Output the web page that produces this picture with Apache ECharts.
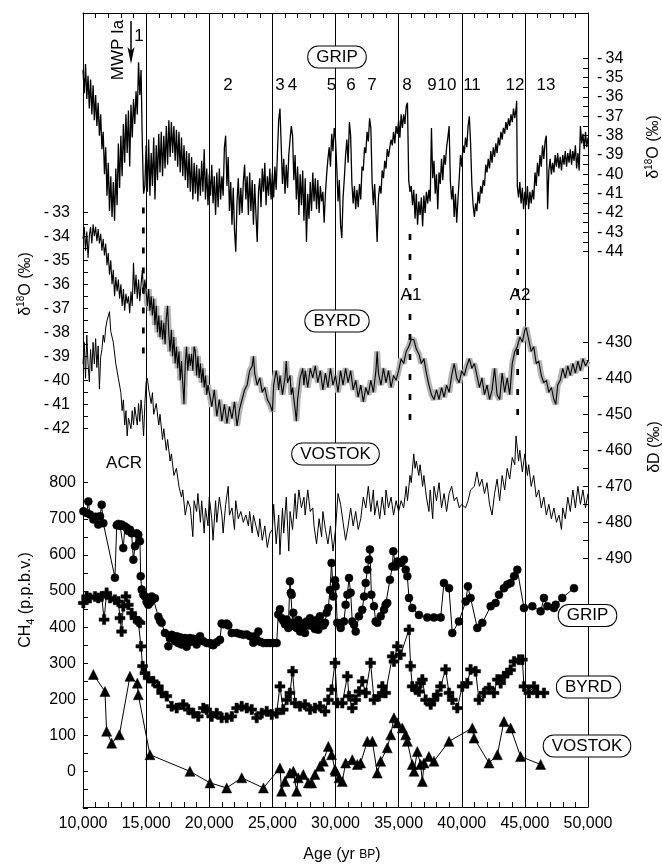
<!DOCTYPE html>
<html lang="en">
<head>
<meta charset="UTF-8">
<title>Ice core records</title>
<script src="https://cdn.jsdelivr.net/npm/echarts@6/dist/echarts.min.js"></script>
<style>
    html, body { margin: 0; padding: 0; background: #fff; }
    #main { width: 662px; height: 866px; }
</style>
</head>
<body>
<div id="main"></div>
<script>
// ages in kyr BP
var gripO18 = [
[10.0,-34.6],[10.1,-35.8],[10.2,-34.3],[10.3,-36.1],[10.4,-34.9],[10.5,-36.6],[10.6,-35.1],[10.7,-36.9],[10.8,-35.4],[10.9,-37.2],
[11.0,-35.9],[11.1,-37.5],[11.2,-36.3],[11.3,-38.0],[11.4,-36.9],[11.5,-38.7],[11.6,-37.8],[11.7,-40.0],[11.8,-38.6],[11.9,-41.1],
[12.0,-39.4],[12.1,-41.9],[12.2,-40.1],[12.3,-42.2],[12.4,-40.4],[12.5,-42.4],[12.6,-39.7],[12.7,-41.6],[12.8,-38.4],[12.9,-40.7],
[13.0,-38.0],[13.1,-40.1],[13.2,-37.4],[13.3,-39.4],[13.4,-36.9],[13.5,-38.9],[13.6,-36.7],[13.7,-39.6],[13.8,-36.4],[13.9,-38.1],
[14.0,-36.1],[14.1,-37.4],[14.2,-35.7],[14.3,-36.9],[14.4,-34.2],[14.5,-35.9],[14.6,-34.6],[14.7,-38.5],[14.8,-41.0],[14.9,-40.6],
[15.0,-38.5],[15.1,-40.9],[15.2,-38.2],[15.3,-41.1],[15.4,-38.9],[15.5,-40.6],[15.6,-38.1],[15.7,-41.3],[15.8,-38.5],[15.9,-40.3],
[16.0,-37.9],[16.1,-39.9],[16.2,-37.8],[16.3,-40.1],[16.4,-38.0],[16.5,-39.7],[16.6,-37.5],[16.7,-39.5],[16.8,-37.2],[16.9,-39.1],
[17.0,-37.3],[17.1,-38.9],[17.2,-37.5],[17.3,-39.3],[17.4,-37.7],[17.5,-39.6],[17.6,-37.8],[17.7,-39.9],[17.8,-38.1],[17.9,-40.1],
[18.0,-38.5],[18.1,-40.3],[18.2,-38.8],[18.3,-40.7],[18.4,-38.9],[18.5,-40.9],[18.6,-39.1],[18.7,-41.3],[18.8,-39.4],[18.9,-41.0],
[19.0,-39.5],[19.1,-41.4],[19.2,-39.7],[19.3,-41.1],[19.4,-39.3],[19.5,-40.9],[19.6,-38.7],[19.7,-41.3],[19.8,-39.7],[19.9,-41.6],
[20.0,-40.0],[20.1,-41.1],[20.2,-39.5],[20.3,-41.5],[20.4,-40.1],[20.5,-42.1],[20.6,-39.9],[20.7,-41.7],[20.8,-39.7],[20.9,-41.3],
[21.0,-40.1],[21.1,-41.1],[21.2,-38.6],[21.3,-38.0],[21.4,-40.6],[21.5,-39.1],[21.6,-41.9],[21.7,-40.4],[21.8,-42.6],[21.9,-40.7],
[22.0,-42.9],[22.1,-44.0],[22.2,-41.4],[22.3,-40.2],[22.4,-42.1],[22.5,-40.7],[22.6,-42.0],[22.7,-40.4],[22.8,-39.5],[22.9,-41.3],
[23.0,-40.1],[23.1,-42.1],[23.2,-39.9],[23.3,-41.9],[23.4,-40.3],[23.5,-42.6],[23.6,-40.5],[23.7,-42.1],[23.8,-43.5],[23.9,-40.9],
[24.0,-40.2],[24.1,-41.7],[24.2,-39.7],[24.3,-40.9],[24.4,-39.4],[24.5,-41.6],[24.6,-40.1],[24.7,-41.1],[24.8,-39.7],[24.9,-41.3],
[25.0,-39.9],[25.1,-41.2],[25.2,-39.6],[25.3,-40.8],[25.4,-38.9],[25.5,-37.2],[25.6,-36.6],[25.7,-38.5],[25.8,-40.5],[25.9,-39.2],
[26.0,-41.0],[26.1,-39.5],[26.2,-40.7],[26.3,-39.0],[26.4,-38.2],[26.5,-37.5],[26.6,-38.0],[26.7,-40.3],[26.8,-39.0],[26.9,-41.3],
[27.0,-39.6],[27.1,-42.1],[27.2,-40.0],[27.3,-41.6],[27.4,-39.8],[27.5,-42.4],[27.6,-40.2],[27.7,-43.5],[27.8,-41.0],[27.9,-42.3],
[28.0,-40.4],[28.1,-41.9],[28.2,-39.9],[28.3,-41.4],[28.4,-40.2],[28.5,-41.8],[28.6,-40.3],[28.7,-42.0],[28.8,-40.6],[28.9,-41.4],
[29.0,-40.9],[29.1,-42.5],[29.2,-41.0],[29.3,-40.0],[29.4,-39.2],[29.5,-38.6],[29.6,-39.6],[29.7,-37.9],[29.8,-38.8],[29.9,-37.6],
[30.0,-38.2],[30.1,-39.6],[30.2,-41.4],[30.3,-40.3],[30.4,-42.6],[30.5,-43.3],[30.6,-41.2],[30.7,-40.2],[30.8,-39.0],[30.9,-38.2],
[31.0,-39.4],[31.1,-37.3],[31.2,-38.0],[31.3,-40.5],[31.4,-41.5],[31.5,-40.6],[31.6,-41.8],[31.7,-40.8],[31.8,-41.7],[31.9,-40.5],
[32.0,-41.3],[32.1,-39.6],[32.2,-39.8],[32.3,-38.6],[32.4,-38.9],[32.5,-37.8],[32.6,-38.3],[32.7,-37.1],[32.8,-37.6],[32.9,-40.4],
[33.0,-41.6],[33.1,-40.5],[33.2,-41.9],[33.3,-43.5],[33.4,-41.2],[33.5,-40.6],[33.6,-41.0],[33.7,-39.8],[33.8,-40.2],[33.9,-39.3],
[34.0,-39.7],[34.1,-38.7],[34.2,-39.1],[34.3,-38.6],[34.4,-38.2],[34.5,-38.5],[34.6,-37.8],[34.7,-38.4],[34.8,-37.5],[34.9,-37.9],
[35.0,-37.2],[35.1,-38.1],[35.2,-36.9],[35.3,-37.6],[35.4,-36.9],[35.5,-37.4],[35.6,-36.5],[35.7,-36.3],[35.8,-40.3],[35.9,-40.9],
[36.0,-40.6],[36.1,-41.6],[36.2,-40.8],[36.3,-42.3],[36.4,-41.0],[36.5,-42.6],[36.6,-41.4],[36.7,-42.1],[36.8,-41.2],[36.9,-42.7],
[37.0,-41.1],[37.1,-42.0],[37.2,-40.9],[37.3,-41.5],[37.4,-40.8],[37.5,-41.4],[37.6,-37.6],[37.7,-40.2],[37.8,-39.3],[37.9,-41.0],
[38.0,-40.0],[38.1,-41.8],[38.2,-39.9],[38.3,-40.5],[38.4,-39.2],[38.5,-40.3],[38.6,-39.0],[38.7,-39.5],[38.8,-38.6],[38.9,-38.1],
[39.0,-37.5],[39.1,-40.4],[39.2,-41.3],[39.3,-40.6],[39.4,-42.2],[39.5,-41.0],[39.6,-42.5],[39.7,-41.3],[39.8,-40.2],[39.9,-39.0],
[40.0,-39.6],[40.1,-38.5],[40.2,-38.9],[40.3,-38.1],[40.4,-38.6],[40.5,-37.5],[40.6,-37.0],[40.7,-38.4],[40.8,-40.5],[40.9,-41.6],
[41.0,-42.2],[41.1,-41.5],[41.2,-41.9],[41.3,-40.9],[41.4,-41.5],[41.5,-40.6],[41.6,-41.0],[41.7,-40.3],[41.8,-40.6],[41.9,-39.5],
[42.0,-39.9],[42.1,-39.2],[42.2,-39.7],[42.3,-38.8],[42.4,-39.4],[42.5,-38.6],[42.6,-39.1],[42.7,-38.4],[42.8,-38.9],[42.9,-38.1],
[43.0,-38.5],[43.1,-37.8],[43.2,-38.2],[43.3,-37.6],[43.4,-37.9],[43.5,-37.3],[43.6,-37.7],[43.7,-37.1],[43.8,-37.5],[43.9,-36.9],
[44.0,-37.3],[44.1,-36.6],[44.2,-37.1],[44.3,-36.6],[44.35,-36.2],[44.4,-40.6],[44.5,-41.2],[44.6,-40.4],[44.7,-41.5],[44.8,-40.7],
[44.9,-41.8],[45.0,-40.9],[45.1,-41.6],[45.2,-40.6],[45.3,-41.8],[45.4,-40.9],[45.5,-41.5],[45.6,-40.8],[45.7,-41.3],[45.8,-39.9],
[45.9,-40.6],[46.0,-39.4],[46.1,-40.1],[46.2,-39.0],[46.3,-39.6],[46.4,-38.5],[46.5,-39.2],[46.6,-38.3],[46.7,-38.0],[46.8,-41.8],
[46.9,-39.8],[47.0,-39.2],[47.1,-40.0],[47.2,-39.4],[47.3,-39.9],[47.4,-39.0],[47.5,-39.6],[47.6,-38.9],[47.7,-39.7],[47.8,-39.1],
[47.9,-39.8],[48.0,-39.0],[48.1,-39.5],[48.2,-38.8],[48.3,-39.6],[48.4,-38.9],[48.5,-39.4],[48.6,-38.7],[48.7,-39.5],[48.8,-38.8],
[48.9,-39.3],[49.0,-38.5],[49.1,-39.7],[49.2,-38.9],[49.3,-39.8],[49.4,-37.5],[49.5,-38.4],[49.6,-37.9],[49.7,-38.7],[49.8,-37.8],
[49.9,-38.6],[50.0,-38.1]
];

var byrdO18 = [
[10.0,-34.1],[10.1,-33.6],[10.2,-34.6],[10.3,-33.8],[10.4,-34.9],[10.5,-34.0],[10.6,-33.6],[10.7,-34.3],[10.8,-33.5],[10.9,-34.0],
[11.0,-33.6],[11.1,-34.2],[11.2,-33.7],[11.3,-34.3],[11.4,-33.9],[11.5,-34.6],[11.6,-34.1],[11.7,-34.8],[11.8,-34.3],[11.9,-35.2],
[12.0,-34.7],[12.1,-35.6],[12.2,-35.0],[12.3,-36.0],[12.4,-35.4],[12.5,-36.5],[12.6,-35.7],[12.7,-36.3],[12.8,-35.8],[12.9,-36.6],
[13.0,-36.0],[13.1,-36.9],[13.2,-36.2],[13.3,-37.1],[13.4,-36.4],[13.5,-36.8],[13.6,-36.5],[13.7,-37.2],[13.8,-36.3],[13.9,-36.9],
[14.0,-35.1],[14.1,-36.4],[14.2,-35.6],[14.3,-36.6],[14.4,-35.8],[14.5,-36.7],[14.6,-36.0],[14.7,-35.4],[14.8,-36.4],[14.9,-35.8],
[15.0,-36.3],[15.1,-36.9],[15.2,-36.2],[15.3,-37.1],[15.4,-36.5],[15.5,-37.3],[15.6,-36.6],[15.7,-37.7],[15.8,-36.9],[15.9,-38.0],
[16.0,-37.3],[16.1,-38.2],[16.2,-37.5],[16.3,-38.3],[16.4,-37.6],[16.5,-38.5],[16.6,-37.4],[16.7,-36.9],[16.8,-38.1],[16.9,-38.8],
[17.0,-37.9],[17.1,-39.0],[17.2,-38.2],[17.3,-39.3],[17.4,-38.6],[17.5,-39.5],[17.6,-38.8],[17.7,-40.0],[17.8,-39.2],[17.9,-40.1],
[18.0,-41.0],[18.1,-39.3],[18.2,-38.6],[18.3,-39.6],[18.4,-38.9],[18.5,-39.4],[18.6,-38.9],[18.7,-39.6],[18.8,-38.6],[18.9,-38.8],
[19.0,-39.8],[19.1,-39.0],[19.2,-39.9],[19.3,-39.3],[19.4,-40.1],[19.5,-39.5],[19.6,-40.3],[19.7,-39.8],[19.8,-40.6],[19.9,-40.2],
[20.0,-40.5],[20.2,-41.1],[20.4,-40.4],[20.6,-41.5],[20.8,-40.8],[21.0,-41.7],[21.2,-41.0],[21.4,-41.8],[21.6,-41.1],[21.8,-41.6],
[22.0,-40.9],[22.2,-41.9],[22.4,-41.2],[22.6,-40.8],[22.8,-40.4],[23.0,-40.2],[23.2,-39.6],[23.4,-39.4],[23.5,-39.0],[23.6,-39.7],
[23.8,-40.2],[24.0,-39.9],[24.2,-40.5],[24.4,-40.3],[24.6,-40.8],[24.8,-41.0],[25.0,-41.3],[25.1,-40.2],[25.3,-39.6],[25.4,-39.9],
[25.5,-40.4],[25.6,-39.8],[25.8,-40.6],[26.0,-39.9],[26.1,-39.2],[26.2,-40.1],[26.4,-39.8],[26.5,-40.6],[26.6,-40.3],[26.8,-41.2],
[26.9,-41.7],[27.0,-40.8],[27.2,-39.9],[27.4,-39.5],[27.5,-40.2],[27.6,-39.6],[27.8,-40.3],[28.0,-39.5],[28.2,-39.9],[28.4,-39.4],
[28.6,-40.1],[28.8,-39.6],[29.0,-40.4],[29.2,-39.7],[29.4,-40.3],[29.6,-39.5],[29.8,-40.2],[30.0,-39.8],[30.2,-40.5],[30.4,-39.6],
[30.6,-40.2],[30.8,-39.5],[31.0,-40.1],[31.2,-39.6],[31.4,-40.4],[31.6,-40.0],[31.8,-40.7],[32.0,-40.2],[32.2,-40.9],[32.4,-40.3],
[32.6,-40.6],[32.8,-40.0],[33.0,-40.5],[33.2,-39.6],[33.3,-38.8],[33.4,-39.7],[33.6,-40.2],[33.8,-39.5],[34.0,-40.1],[34.2,-39.6],
[34.4,-40.3],[34.6,-39.8],[34.8,-40.0],[35.0,-39.6],[35.2,-39.1],[35.4,-39.3],[35.6,-38.8],[35.8,-38.6],[36.0,-38.3],[36.2,-38.3],
[36.4,-38.7],[36.6,-38.9],[36.8,-39.3],[37.0,-39.1],[37.2,-39.7],[37.4,-40.2],[37.6,-40.6],[37.8,-40.8],[38.0,-40.4],[38.2,-40.8],
[38.4,-40.3],[38.6,-40.7],[38.8,-40.2],[39.0,-40.5],[39.2,-39.8],[39.4,-39.3],[39.6,-39.9],[39.8,-40.1],[40.0,-39.6],[40.2,-39.8],
[40.4,-39.4],[40.6,-39.1],[40.8,-39.5],[41.0,-39.3],[41.2,-39.8],[41.4,-40.3],[41.6,-39.9],[41.8,-40.6],[42.0,-40.2],[42.2,-40.8],
[42.4,-40.4],[42.6,-39.5],[42.8,-40.6],[43.0,-40.8],[43.2,-39.7],[43.4,-40.5],[43.6,-39.9],[43.8,-40.6],[44.0,-39.3],[44.2,-38.8],
[44.4,-38.6],[44.6,-38.2],[44.8,-38.4],[45.0,-37.9],[45.1,-37.8],[45.3,-38.3],[45.5,-38.8],[45.7,-38.6],[45.9,-39.3],[46.1,-39.2],
[46.3,-39.8],[46.5,-40.1],[46.7,-40.0],[46.9,-40.5],[47.1,-40.3],[47.3,-40.8],[47.45,-41.0],[47.6,-40.2],[47.8,-40.0],[48.0,-39.5],
[48.2,-39.9],[48.4,-39.4],[48.6,-39.8],[48.8,-39.3],[49.0,-39.7],[49.2,-39.2],[49.4,-39.6],[49.6,-39.1],[49.8,-39.4],[50.0,-39.2]
];

var vostokDD = [
[10.0,-436],[10.1,-430],[10.2,-440],[10.3,-428],[10.4,-436],[10.5,-441],[10.6,-432],[10.7,-438],[10.8,-430],[10.9,-436],
[11.0,-429],[11.1,-437],[11.2,-431],[11.3,-443],[11.4,-434],[11.5,-432],[11.6,-428],[11.7,-430],[11.8,-426],[11.9,-424],
[12.1,-421.5],[12.2,-427],[12.4,-430],[12.6,-436],[12.8,-440],[13.0,-444],[13.1,-449],[13.2,-446],[13.3,-453],[13.4,-449],
[13.5,-456],[13.6,-451],[13.8,-454],[13.9,-449],[14.0,-453],[14.1,-448],[14.3,-453],[14.4,-447],[14.5,-452],[14.6,-446],
[14.7,-450],[14.8,-456],[14.9,-447],[15.0,-441],[15.1,-440],[15.2,-443],[15.4,-447],[15.5,-444],[15.6,-450],[15.8,-447],
[16.0,-453],[16.1,-450],[16.3,-457],[16.4,-454],[16.6,-460],[16.7,-457],[16.9,-463],[17.0,-461],[17.2,-467],[17.4,-465],
[17.6,-470],[17.8,-473],[17.9,-471],[18.1,-478],[18.3,-474],[18.5,-476],[18.7,-484],[18.8,-474],[19.0,-477],[19.1,-472],
[19.3,-480],[19.4,-474],[19.6,-483],[19.7,-476],[19.9,-481],[20.0,-473],[20.2,-479],[20.3,-485],[20.5,-474],[20.6,-480],
[20.8,-473],[21.0,-478],[21.1,-483],[21.3,-475],[21.5,-470],[21.6,-478],[21.8,-476],[22.0,-482],[22.1,-474],[22.3,-479],
[22.5,-477],[22.7,-480],[22.9,-478],[23.1,-481],[23.2,-477],[23.4,-483],[23.5,-478],[23.7,-481],[23.9,-484],[24.0,-479],
[24.2,-485],[24.4,-481],[24.6,-487],[24.8,-483],[25.0,-482],[25.1,-475],[25.3,-486],[25.5,-478],[25.6,-489],[25.8,-476],
[25.9,-483],[26.1,-473],[26.3,-488],[26.4,-477],[26.6,-482],[26.8,-472],[26.9,-479],[27.1,-471],[27.3,-476],[27.5,-473],
[27.6,-478],[27.8,-471],[28.0,-477],[28.2,-476],[28.3,-481],[28.5,-486],[28.7,-479],[28.9,-484],[29.0,-477],[29.2,-482],
[29.4,-486],[29.6,-481],[29.8,-488],[30.0,-482],[30.2,-472],[30.4,-475],[30.6,-480],[30.8,-485],[31.0,-481],[31.2,-476],
[31.4,-481],[31.6,-477],[31.8,-482],[32.0,-479],[32.2,-473],[32.4,-476],[32.6,-470],[32.8,-477],[33.0,-471],[33.1,-478],
[33.3,-474],[33.5,-479],[33.7,-473],[33.9,-478],[34.0,-471],[34.2,-476],[34.4,-473],[34.6,-478],[34.8,-474],[35.0,-477],
[35.2,-474],[35.4,-476],[35.6,-470],[35.7,-474],[35.9,-467],[36.0,-469],[36.2,-461],[36.3,-465],[36.4,-463],[36.6,-467],
[36.7,-464],[36.9,-470],[37.0,-467],[37.2,-473],[37.4,-477],[37.5,-471],[37.7,-479],[37.8,-470],[38.0,-474],[38.2,-469],
[38.4,-476],[38.6,-472],[38.8,-477],[39.0,-472],[39.2,-470],[39.4,-474],[39.6,-473],[39.8,-476],[40.0,-475],[40.3,-476],
[40.5,-474],[40.7,-471],[41.0,-470],[41.2,-466],[41.4,-470],[41.6,-468],[41.8,-472],[42.0,-469],[42.2,-475],[42.4,-478],
[42.6,-472],[42.8,-468],[43.0,-474],[43.2,-467],[43.4,-471],[43.6,-465],[43.8,-468],[44.0,-462],[44.2,-464],[44.3,-456],
[44.5,-463],[44.6,-460],[44.8,-466],[45.0,-461],[45.2,-467],[45.3,-464],[45.5,-470],[45.7,-467],[45.9,-473],[46.1,-471],
[46.3,-476],[46.5,-473],[46.7,-478],[46.9,-475],[47.1,-479],[47.3,-476],[47.5,-480],[47.7,-478],[47.9,-482],[48.0,-476],
[48.2,-479],[48.4,-473],[48.6,-477],[48.8,-471],[49.0,-476],[49.2,-470],[49.4,-475],[49.6,-471],[49.8,-476],[50.0,-472]
];

var gripCH4 = [
[10.03,721],[10.29,716],[10.42,748],[10.55,712],[10.82,698],[11.0,706],[11.21,684],[11.35,707],[11.48,739],[11.61,688],
[12.53,537],[12.67,682],[12.80,686],[12.95,680],[13.06,684],[13.19,619],[13.32,679],[13.46,675],[13.59,666],[13.72,670],
[13.85,660],[13.99,587],[14.12,624],[14.25,660],[14.38,656],[14.51,638],[14.57,541],[14.65,504],[14.78,490],[14.91,485],
[15.04,470],[15.17,462],[15.30,468],[15.44,485],[15.57,478],[15.70,480],[15.97,429],[16.10,418],[16.23,412],[16.49,384],
[16.76,347],[16.89,370],[17.02,379],[17.15,375],[17.29,361],[17.42,375],[17.55,356],[17.68,372],[17.81,352],[17.94,366],
[18.08,370],[18.21,346],[18.34,365],[18.47,370],[18.60,360],[18.74,368],[19.00,352],[19.13,365],[19.27,375],[19.53,361],
[19.80,356],[20.06,356],[20.19,352],[20.32,350],[20.59,358],[20.85,365],[20.98,410],[21.11,408],[21.38,410],[21.51,405],
[21.78,384],[22.17,384],[22.44,381],[22.70,379],[22.97,380],[23.23,375],[23.49,357],[23.62,375],[23.89,388],[24.02,360],
[24.29,356],[24.55,356],[24.81,356],[25.07,356],[25.34,356],[25.47,435],[25.60,450],[25.73,425],[25.86,418],[26.00,408],
[26.13,421],[26.26,398],[26.39,527],[26.46,495],[26.53,490],[26.60,412],[26.66,440],[26.79,402],[26.92,398],[27.05,420],
[27.19,388],[27.32,395],[27.45,410],[27.58,384],[27.72,416],[27.85,405],[27.98,425],[28.11,412],[28.24,402],[28.37,395],
[28.51,420],[28.64,393],[28.77,430],[28.90,410],[29.04,405],[29.17,412],[29.30,440],[29.43,453],[29.56,503],[29.69,578],
[29.83,485],[29.96,530],[30.01,513],[30.14,412],[30.41,398],[30.67,416],[30.80,462],[30.94,490],[31.07,536],[31.20,495],
[31.33,416],[31.47,407],[31.60,388],[31.86,430],[32.12,448],[32.26,485],[32.39,522],[32.52,559],[32.65,587],[32.73,615],
[32.84,490],[33.05,458],[33.18,416],[33.31,412],[33.58,430],[33.84,448],[33.97,462],[34.10,467],[34.31,531],[34.50,568],
[34.58,610],[34.76,568],[34.90,582],[35.16,578],[35.42,587],[35.56,559],[35.69,541],[35.82,481],[36.08,453],[36.61,434],
[37.27,427],[37.80,427],[38.33,427],[38.59,522],[38.99,508],[39.25,384],[39.78,416],[40.31,471],[40.49,513],[40.70,481],
[41.23,398],[41.63,412],[42.29,458],[42.68,467],[42.95,490],[43.34,508],[43.61,518],[43.87,522],[44.14,541],[44.40,559],
[44.93,453],[45.59,458],[46.25,444],[46.51,481],[46.78,458],[47.30,453],[47.44,462],[47.96,481],[48.89,508]
];

var byrdCH4 = [
[10.03,467],[10.29,485],[10.55,481],[10.95,485],[11.21,481],[11.48,485],[11.67,421],[11.87,495],[12.14,481],[12.53,476],
[12.80,471],[12.93,425],[13.06,388],[13.19,458],[13.40,485],[13.59,462],[13.85,439],[14.12,425],[14.38,416],[14.51,412],
[14.59,347],[14.72,292],[14.91,273],[15.17,259],[15.57,250],[15.97,236],[16.23,218],[16.63,209],[17.02,181],[17.42,176],
[17.94,186],[18.34,172],[18.74,162],[19.13,153],[19.53,176],[19.80,172],[20.19,153],[20.59,162],[20.98,149],[21.38,149],
[21.78,153],[22.17,176],[22.57,181],[22.97,176],[23.36,172],[23.76,149],[24.16,162],[24.55,167],[24.95,158],[25.34,162],
[25.60,236],[25.86,172],[26.13,199],[26.39,218],[26.60,278],[26.79,190],[27.19,181],[27.58,186],[27.98,172],[28.37,176],
[28.77,181],[29.17,167],[29.43,199],[29.69,227],[29.96,301],[30.14,190],[30.54,190],[30.94,264],[31.07,209],[31.33,176],
[31.60,199],[31.86,222],[32.12,250],[32.39,218],[32.78,301],[33.05,199],[33.44,209],[33.71,236],[33.97,218],[34.50,319],
[34.63,305],[34.90,347],[35.16,324],[35.82,393],[35.95,292],[36.08,236],[36.35,227],[36.61,222],[36.74,245],[36.88,255],
[37.14,199],[37.54,186],[37.80,199],[38.06,213],[38.33,236],[38.72,283],[38.99,218],[39.25,199],[39.65,176],[40.04,236],
[40.44,245],[40.70,283],[41.10,278],[41.36,199],[41.76,218],[42.16,232],[42.55,218],[42.82,255],[43.08,245],[43.34,264],
[43.61,273],[43.87,282],[44.14,305],[44.53,310],[44.80,310],[44.93,236],[45.32,218],[45.72,236],[45.98,218],[46.51,218]
];

var vostokCH4 = [
[10.82,269],[11.74,222],[11.87,112],[12.27,79],[12.88,102],[13.72,264],[14.30,245],[14.38,213],[15.30,47],[18.47,1],
[20.06,-31],[21.38,-45],[22.57,-17],[24.29,-45],[25.60,10],[25.73,-54],[25.99,-27],[26.39,-4],[26.66,1],[26.92,-54],
[27.05,-17],[27.45,-8],[27.85,-31],[28.11,-31],[28.37,-8],[28.77,15],[29.04,29],[29.43,70],[29.69,47],[29.96,6],
[30.01,1],[30.28,-17],[30.54,-27],[30.80,24],[31.33,33],[31.73,20],[31.99,24],[32.52,84],[32.92,84],[33.31,-4],
[33.58,29],[34.10,66],[34.37,102],[34.63,149],[34.90,135],[35.29,121],[35.56,102],[35.69,84],[36.08,20],[36.22,1],
[36.48,56],[36.74,20],[36.88,-27],[37.01,24],[37.40,42],[37.80,29],[38.99,84],[40.84,121],[40.97,93],[42.16,24],
[42.82,47],[43.34,139],[43.87,121],[44.66,42],[46.25,20]
];

// dashed markers (MWP Ia, A1, A2) on the Byrd delta-18O scale
var markerAges = [14.78, 35.9, 44.43];
var markerTop = [-32.8, -33.9, -33.7];
var markerBottom = [-39.2, -41.9, -41.6];

var eventLabels = ['2', '3', '4', '5', '6', '7', '8', '9', '10', '11', '12', '13'];
var eventX = [228, 280, 292.5, 331.5, 351, 372, 407, 432, 447, 472, 515, 546];

var FONT = 'Liberation Sans, Arial, Helvetica, sans-serif';

function minusLabel(v) {
    return v < 0 ? '-\u2009' + Math.abs(v) : '' + v;
}
function yearLabel(v) {
    return String(Math.round(v * 1000)).replace(/\B(?=(\d{3})+(?!\d))/g, ',');
}

var tickStyle = {inside: true, length: 5, lineStyle: {color: '#000', width: 1}};
var lineBlack = {show: true, onZero: false, lineStyle: {color: '#000', width: 1}};
var labelBase = {color: '#000', fontSize: 16, fontFamily: FONT};

var xAxes = [
    {gridIndex: 0, type: 'value', position: 'bottom', min: 10, max: 50, interval: 5,
        axisLine: lineBlack, axisTick: tickStyle,
        minorTick: {show: true, splitNumber: 5, length: 5, lineStyle: {color: '#000'}},
        splitLine: {show: true, lineStyle: {color: '#000', width: 1}},
        axisLabel: Object.assign({margin: 9, formatter: yearLabel}, labelBase)},
    {gridIndex: 0, type: 'value', position: 'top', min: 10, max: 50, interval: 5,
        axisLine: lineBlack, axisTick: tickStyle,
        minorTick: {show: true, splitNumber: 5, length: 5, lineStyle: {color: '#000'}},
        splitLine: {show: false}, axisLabel: {show: false}}
];
for (var g = 1; g <= 4; g++) {
    xAxes.push({gridIndex: g, type: 'value', min: 10, max: 50, show: false});
}

function scaleAxis(grid, pos, min, max, step, margin, fmt) {
    return {gridIndex: grid, type: 'value', position: pos, min: min, max: max, interval: step,
        axisLine: lineBlack, axisTick: tickStyle,
        minorTick: {show: true, splitNumber: 2, length: 5, lineStyle: {color: '#000'}},
        splitLine: {show: false},
        axisLabel: Object.assign({margin: margin, formatter: fmt}, labelBase)};
}

var yAxes = [
    {gridIndex: 0, type: 'value', position: 'left', min: 0, max: 1, axisLine: lineBlack,
        axisTick: {show: false}, axisLabel: {show: false}, splitLine: {show: false}},
    {gridIndex: 0, type: 'value', position: 'right', min: 0, max: 1, axisLine: lineBlack,
        axisTick: {show: false}, axisLabel: {show: false}, splitLine: {show: false}},
    scaleAxis(1, 'right', -44, -34, 1, 9, minusLabel),
    scaleAxis(2, 'left', -42, -33, 1, 13, minusLabel),
    scaleAxis(3, 'right', -490, -430, 10, 9, minusLabel),
    scaleAxis(4, 'left', -100, 800, 100, 7, function (v) { return v < 0 ? '' : '' + v; })
];

function curve(xi, yi, data, color, width, z) {
    return {type: 'line', xAxisIndex: xi, yAxisIndex: yi, data: data, symbol: 'none',
        clip: false, z: z || 3, lineStyle: {color: color, width: width}};
}
function dots(yi, data, symbol, size) {
    return {type: 'line', xAxisIndex: 5, yAxisIndex: yi, data: data, symbol: symbol, symbolSize: size,
        showAllSymbol: true, clip: false, z: 4,
        itemStyle: {color: '#000', borderColor: '#000', borderWidth: 0.5}, lineStyle: {color: '#000', width: 1}};
}

var series = [
    curve(2, 2, gripO18, '#000', 1.3),
    curve(3, 3, byrdO18.filter(function (p) { return p[0] >= 15; }), '#b4b4b4', 6, 2),
    curve(3, 3, byrdO18, '#000', 1.1),
    curve(4, 4, vostokDD, '#000', 1),
    dots(5, gripCH4, 'circle', 8),
    dots(5, byrdCH4, 'path://M3,0h3v3h3v3h-3v3h-3v-3h-3v-3h3z', 10),
    dots(5, vostokCH4, 'triangle', 10)
];
markerAges.forEach(function (a, i) {
    series.push({type: 'line', xAxisIndex: 3, yAxisIndex: 3, symbol: 'none', clip: false, z: 5,
        data: [[a, markerTop[i]], [a, markerBottom[i]]],
        lineStyle: {color: '#000', width: 2.7, type: [6, 14]}});
});

function txt(text, x, y, size, rot) {
    return {type: 'text', x: x, y: y, z: 50, rotation: rot || 0,
        style: {text: text, fontSize: size || 17, fontFamily: FONT, fill: '#000',
            align: 'center', verticalAlign: 'middle', textAlign: 'center', textVerticalAlign: 'middle'}};
}
function boxed(text, x, y) {
    var el = txt(text, x, y, 17);
    el.style.backgroundColor = '#fff';
    el.style.borderColor = '#000';
    el.style.borderWidth = 1;
    el.style.borderRadius = 10;
    el.style.padding = [2, 8, 2, 8];
    el.style.lineHeight = 17;
    return el;
}
function richTitle(text, x, y, rot, rich) {
    var el = txt(text, x, y, 16, rot);
    el.style.rich = rich;
    return el;
}

var supRich = {
    a: {fontSize: 16, fontFamily: FONT, lineHeight: 20, fill: '#000'},
    s: {fontSize: 10, fontFamily: FONT, lineHeight: 20, verticalAlign: 'top', fill: '#000'}
};
var subRich = {
    a: {fontSize: 16, fontFamily: FONT, lineHeight: 20, fill: '#000'},
    s: {fontSize: 11, fontFamily: FONT, lineHeight: 18, verticalAlign: 'bottom', fill: '#000'}
};
var capRich = {
    a: {fontSize: 16, fontFamily: FONT, fill: '#000'},
    s: {fontSize: 12, fontFamily: FONT, fill: '#000'}
};

var graphics = [
    txt('1', 139, 36),
    txt('MWP Ia', 118.5, 50, 17, Math.PI / 2),
    {type: 'line', z: 50, shape: {x1: 131, y1: 21, x2: 131, y2: 52}, style: {stroke: '#000', lineWidth: 1.5}},
    {type: 'polygon', z: 50, shape: {points: [[127.5, 47], [131, 51], [134.5, 47], [131, 64]]}, style: {fill: '#000'}},
    txt('ACR', 124, 463),
    txt('A1', 411, 295),
    txt('A2', 520, 295),
    boxed('GRIP', 337, 57),
    boxed('BYRD', 337, 321),
    boxed('VOSTOK', 335.5, 454),
    boxed('GRIP', 587.5, 615.5),
    boxed('BYRD', 588.5, 687),
    boxed('VOSTOK', 587, 746),
    richTitle('{a|\u03b4}{s|18}{a|O (\u2030)}', 26, 284, Math.PI / 2, supRich),
    richTitle('{a|\u03b4}{s|18}{a|O (\u2030)}', 654, 147, Math.PI / 2, supRich),
    richTitle('{a|\u03b4D (\u2030)}', 655, 447, Math.PI / 2, supRich),
    richTitle('{a|CH}{s|4}{a| (p.p.b.v.)}', 26, 600, Math.PI / 2, subRich),
    richTitle('{a|Age (yr }{s|BP}{a|)}', 342, 855, 0, capRich)
];
eventLabels.forEach(function (t, i) {
    graphics.push(txt(t, eventX[i], 85));
});

var chart = echarts.init(document.getElementById('main'));
chart.setOption({
    animation: false,
    backgroundColor: '#fff',
    grid: [
        {left: 83, top: 13, width: 505, height: 794},
        {left: 83, top: 58.3, width: 505, height: 193.4},
        {left: 83, top: 212.3, width: 505, height: 216},
        {left: 83, top: 342.3, width: 505, height: 216},
        {left: 83, top: 482.7, width: 505, height: 325.1}
    ],
    xAxis: xAxes,
    yAxis: yAxes,
    series: series,
    graphic: graphics
});
</script>
</body>
</html>
